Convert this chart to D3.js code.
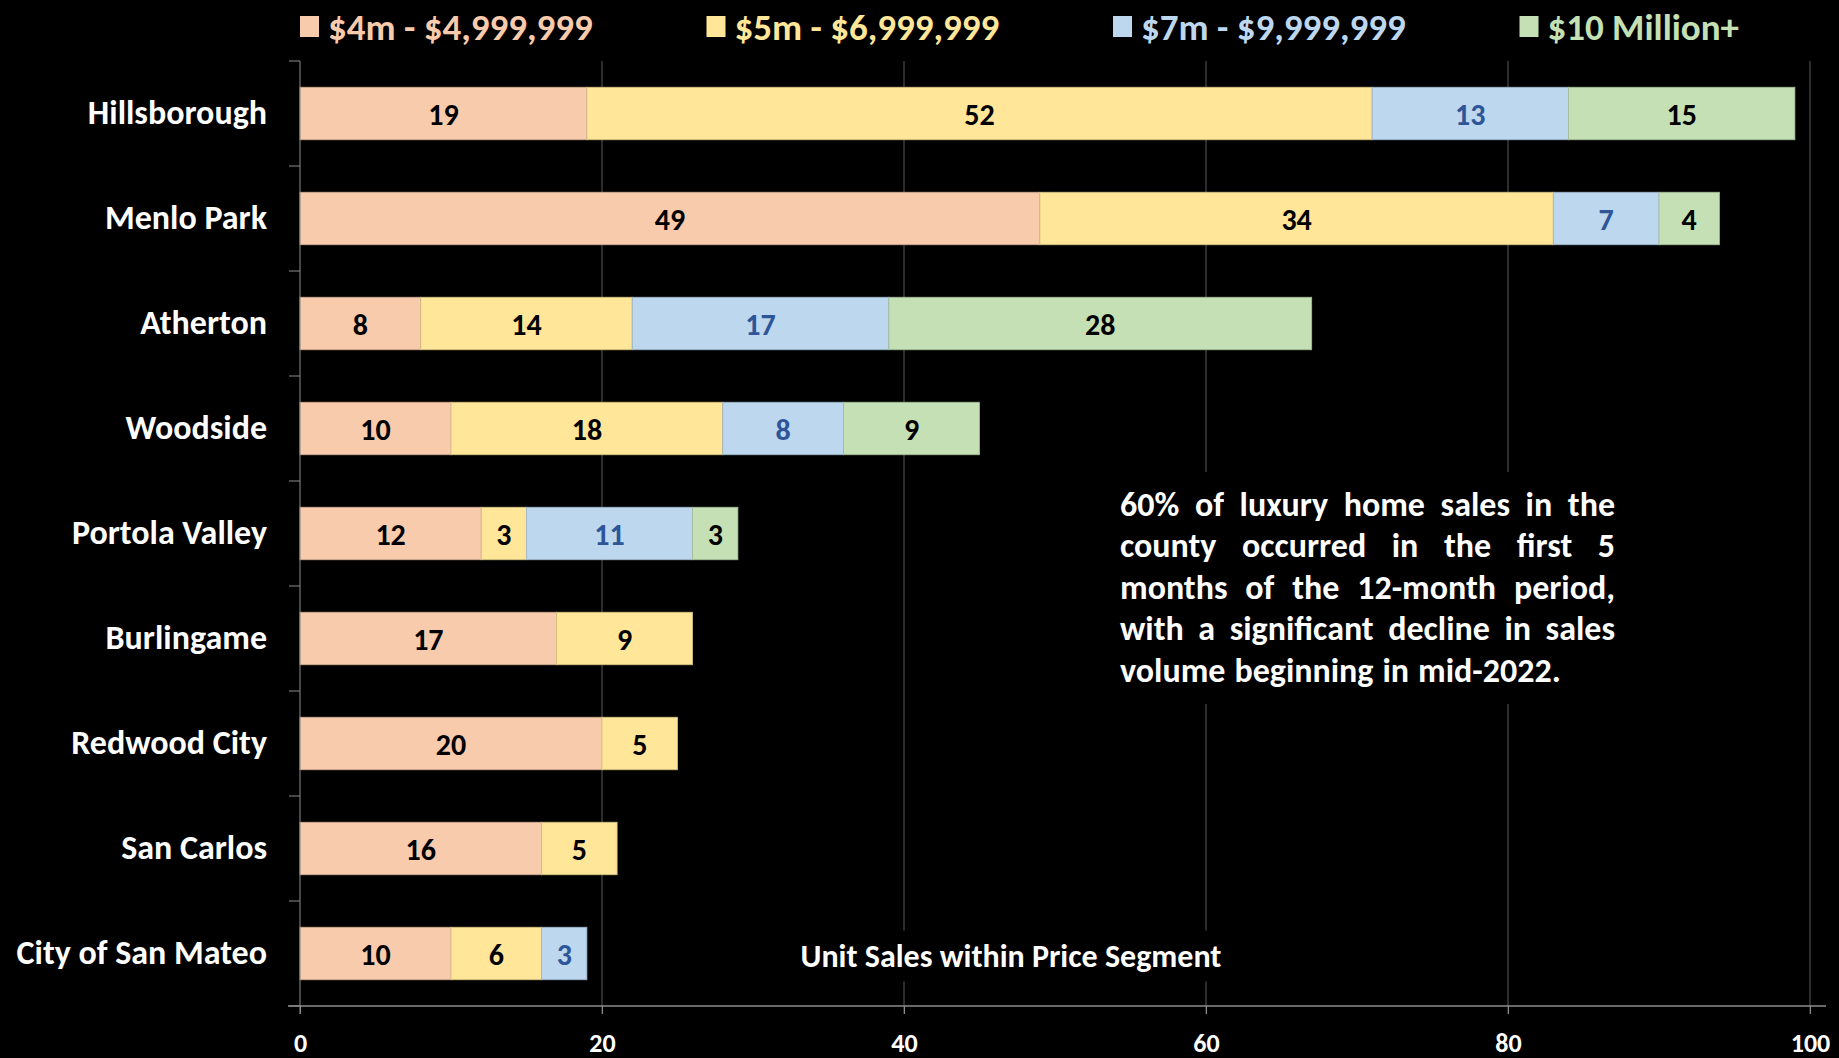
<!DOCTYPE html>
<html>
<head>
<meta charset="utf-8">
<script src="https://cdn.jsdelivr.net/npm/d3@7"></script>
<style>
  body { margin: 0; background: #000; }
  svg { display: block; }
  text { font-family: Calibri, Carlito, Lato, sans-serif; font-weight: bold; }
</style>
</head>
<body>
<div id="chart"></div>
<script>
// data
let cities = ["Hillsborough", "Menlo Park", "Atherton", "Woodside", "Portola Valley",
              "Burlingame", "Redwood City", "San Carlos", "City of San Mateo"]
let seg4m  = [19, 49, 8, 10, 12, 17, 20, 16, 10]
let seg5m  = [52, 34, 14, 18, 3, 9, 5, 5, 6]
let seg7m  = [13, 7, 17, 8, 11, 0, 0, 0, 3]
let seg10m = [15, 4, 28, 9, 3, 0, 0, 0, 0]
let segNames = ["$4m - $4,999,999", "$5m - $6,999,999", "$7m - $9,999,999", "$10 Million+"]
let xTicks = [0, 20, 40, 60, 80, 100]
let noteLines = ["60% of luxury home sales in the",
                 "county occurred in the first 5",
                 "months of the 12-month period,",
                 "with a significant decline in sales",
                 "volume beginning in mid-2022."]
let axisTitle = "Unit Sales within Price Segment"

let segColors = ["#F8CBAD", "#FFE699", "#BDD7EE", "#C5E0B4"]
let labelColors = ["#000", "#000", "#2E5597", "#000"]

let width = 1839, height = 1058
let plot = {left: 300, right: 1810, top: 61, bottom: 1006}

// build rows for the stack
let keys = ["s4", "s5", "s7", "s10"]
let rows = cities.map(function (c, i) {
    return {city: c, s4: seg4m[i], s5: seg5m[i], s7: seg7m[i], s10: seg10m[i]}
})
let series = d3.stack().keys(keys)(rows)

let svg = d3.select("#chart").append("svg")
    .attr("width", width)
    .attr("height", height)
    .style("background", "#000")

let x = d3.scaleLinear().domain([0, 100]).range([plot.left, plot.right])
let y = d3.scaleBand().domain(cities).range([plot.top, plot.bottom])
    .paddingInner(0.5).paddingOuter(0.25)

// vertical gridlines
svg.append("g").selectAll("line")
    .data(xTicks.slice(1))
    .enter().append("line")
    .attr("x1", d => x(d)).attr("x2", d => x(d))
    .attr("y1", plot.top).attr("y2", plot.bottom + 8)
    .attr("stroke", "#595959").attr("stroke-width", 1)

// bars
let layers = svg.append("g").selectAll("g")
    .data(series)
    .enter().append("g")
    .attr("fill", (d, i) => segColors[i])
    .attr("stroke", (d, i) => d3.color(segColors[i]).darker(0.5))

layers.selectAll("rect")
    .data(d => d)
    .enter().append("rect")
    .attr("x", d => x(d[0]))
    .attr("y", d => y(d.data.city))
    .attr("width", d => x(d[1]) - x(d[0]))
    .attr("height", y.bandwidth())
    .attr("stroke-width", 0.8)

// value labels
series.forEach(function (s, si) {
    svg.append("g").selectAll("text")
        .data(s.filter(d => d[1] - d[0] > 0))
        .enter().append("text")
        .attr("x", d => x((d[0] + d[1]) / 2))
        .attr("y", d => y(d.data.city) + y.bandwidth() / 2 + 1)
        .attr("text-anchor", "middle")
        .attr("dominant-baseline", "central")
        .attr("fill", labelColors[si])
        .style("font-size", "30px")
        .text(d => d[1] - d[0])
})

// category axis
let yAxis = svg.append("g")
    .attr("transform", "translate(" + plot.left + ",0)")
    .call(d3.axisLeft(y).tickSize(0).tickPadding(33))
yAxis.select(".domain").remove()
yAxis.selectAll("text")
    .attr("fill", "#fff")
    .style("font-size", "34px")

let bounds = d3.range(cities.length + 1).map(i => plot.top + i * y.step())
svg.append("g").selectAll("line")
    .data(bounds)
    .enter().append("line")
    .attr("x1", plot.left - 11).attr("x2", plot.left)
    .attr("y1", d => d).attr("y2", d => d)
    .attr("stroke", "#8c8c8c")
svg.append("line")
    .attr("x1", plot.left).attr("x2", plot.left)
    .attr("y1", plot.top).attr("y2", plot.bottom + 8)
    .attr("stroke", "#8c8c8c")

// value axis
let xAxis = svg.append("g")
    .attr("transform", "translate(0," + plot.bottom + ")")
    .call(d3.axisBottom(x).tickValues(xTicks).tickSize(8).tickPadding(20))
xAxis.select(".domain").remove()
xAxis.selectAll("line").attr("stroke", "#8c8c8c")
xAxis.selectAll("text")
    .attr("fill", "#fff")
    .style("font-size", "26px")
svg.append("line")
    .attr("x1", plot.left - 12).attr("x2", plot.right + 16)
    .attr("y1", plot.bottom).attr("y2", plot.bottom)
    .attr("stroke", "#8c8c8c").attr("stroke-width", 1.5)

// axis title with black box
let titleG = svg.append("g")
let title = titleG.append("text")
    .attr("x", 1011).attr("y", 956)
    .attr("text-anchor", "middle")
    .attr("dominant-baseline", "central")
    .attr("fill", "#fff")
    .style("font-size", "32px")
    .text(axisTitle)
let tb = title.node().getBBox()
titleG.insert("rect", "text")
    .attr("x", tb.x - 8).attr("y", tb.y - 6)
    .attr("width", tb.width + 16).attr("height", tb.height + 12)
    .attr("fill", "#000")

// note box, justified text
let noteLeft = 1120, noteRight = 1615, noteTop = 504, lineStep = 41.5
svg.append("rect")
    .attr("x", 1100).attr("y", 472)
    .attr("width", 540).attr("height", 232)
    .attr("fill", "#000")
let noteG = svg.append("g")
noteLines.forEach(function (line, li) {
    let words = line.split(" ")
    let ly = noteTop + li * lineStep
    let nodes = words.map(w => noteG.append("text")
        .attr("y", ly)
        .attr("dominant-baseline", "central")
        .attr("fill", "#fff")
        .style("font-size", "34px")
        .text(w))
    let widths = nodes.map(n => n.node().getComputedTextLength())
    let total = d3.sum(widths)
    let last = li === noteLines.length - 1
    let gap = last ? 9 : (noteRight - noteLeft - total) / (words.length - 1)
    let cx = noteLeft
    nodes.forEach(function (n, i) {
        n.attr("x", cx)
        cx += widths[i] + gap
    })
})

// legend
let legend = svg.append("g").selectAll("g")
    .data(segNames)
    .enter().append("g")
    .attr("transform", (d, i) => "translate(" + (300 + i * 406.5) + ",0)")
legend.append("rect")
    .attr("x", 0).attr("y", 16)
    .attr("width", 19).attr("height", 21)
    .attr("fill", (d, i) => segColors[i])
legend.append("text")
    .attr("x", 28).attr("y", 27)
    .attr("dominant-baseline", "central")
    .attr("fill", (d, i) => segColors[i])
    .style("font-size", "37px")
    .text(d => d)
</script>
</body>
</html>
